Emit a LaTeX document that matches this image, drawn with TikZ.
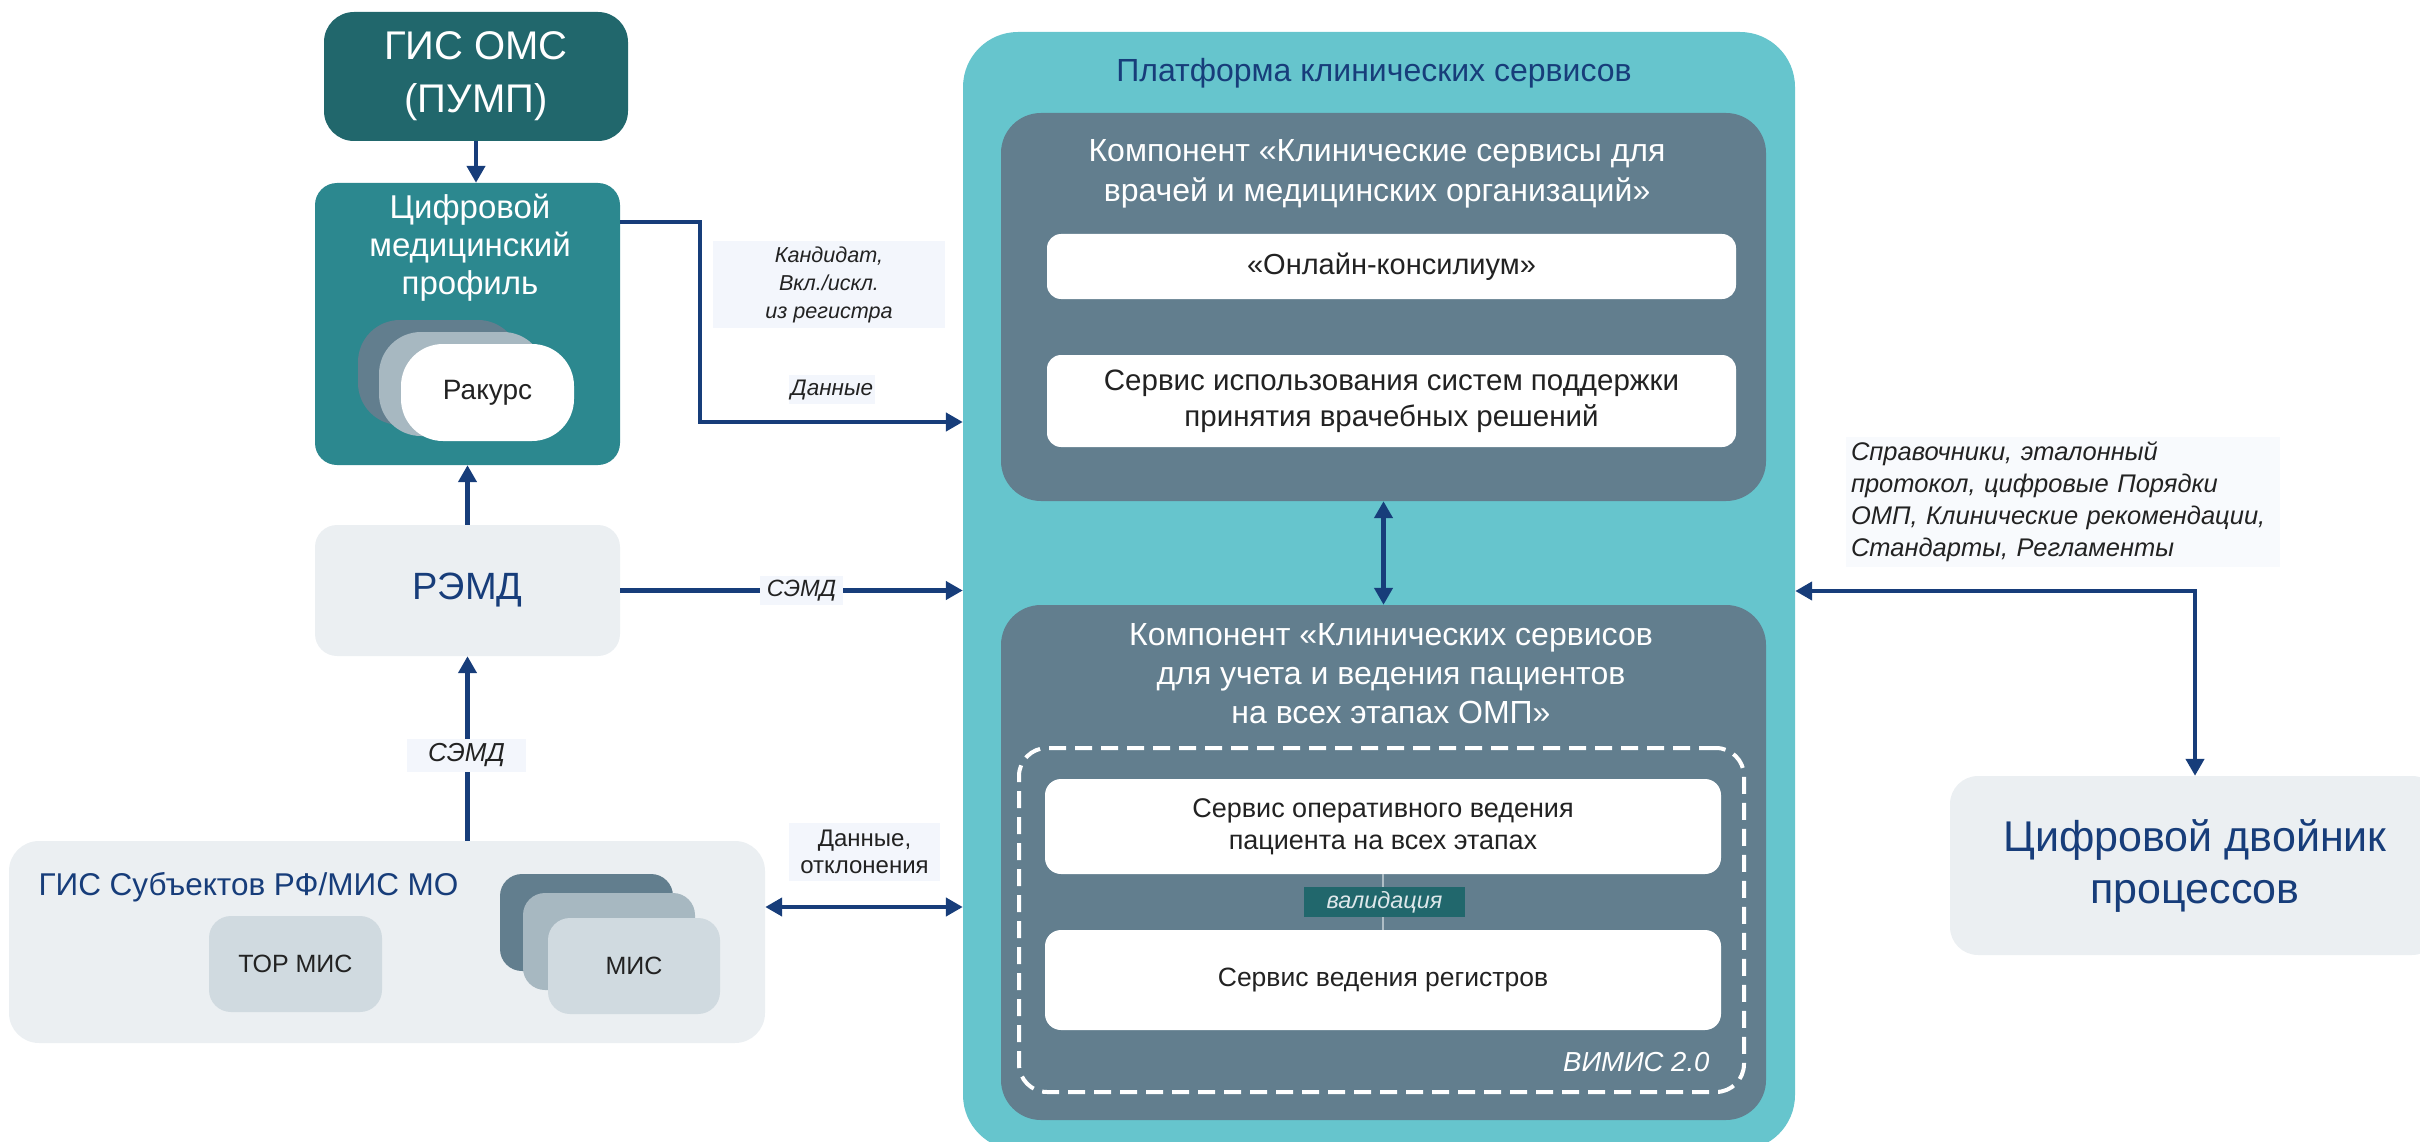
\documentclass[tikz,border=0pt]{standalone}
\usepackage{fontspec}
\setmainfont{Liberation Sans}
\usetikzlibrary{arrows.meta,calc}
\definecolor{navy}{HTML}{173D7A}
\definecolor{darkteal}{HTML}{21676C}
\definecolor{midteal}{HTML}{2C888F}
\definecolor{plat}{HTML}{66C5CD}
\definecolor{slate}{HTML}{627E8E}
\definecolor{lightgray}{HTML}{EBEFF2}
\definecolor{palegray}{HTML}{D0DAE0}
\definecolor{midgray}{HTML}{A7B8C1}
\definecolor{lblbg}{HTML}{F3F6FC}
\definecolor{lbltext}{HTML}{222222}
\definecolor{thinline}{HTML}{AFBEC6}
\definecolor{validtext}{HTML}{DDE7EA}
\newcommand\fsz[2]{\fontsize{#1}{#2}\selectfont}
\tikzset{
  rbox/.style={rectangle, inner sep=0pt, align=center},
  lbl/.style={rectangle, fill=lblbg, inner sep=0pt, align=center, text=lbltext},
  arr/.style={draw=navy, line width=4.5pt, -{Triangle[length=17pt,width=18pt]}},
  darr/.style={draw=navy, line width=4.5pt, {Triangle[length=17pt,width=18pt]}-{Triangle[length=17pt,width=18pt]}},
}
\begin{document}
\begin{tikzpicture}[x=1pt,y=-1pt]
\useasboundingbox (0,0) rectangle (2420,1142);
% platform
\node[rbox, fill=plat, rounded corners=55pt, minimum width=832pt, minimum height=1118pt] (platform) at (1379,591) {};
\node[font=\fsz{32}{38}, text=navy] (ptitle) at (1374,73) {Платформа клинических сервисов};
% component 1
\node[rbox, fill=slate, rounded corners=40pt, minimum width=765pt, minimum height=388pt] (comp1) at (1383.5,307) {};
\node[align=center, font=\fsz{32}{40}, text=white] (comp1t) at (1377,174) {Компонент «Клинические сервисы для\\врачей и медицинских организаций»};
\node[rbox, fill=white, rounded corners=14pt, minimum width=689pt, minimum height=65pt, font=\fsz{29}{36}, text=lbltext] (wb1) at (1391.5,266.5) {«Онлайн-консилиум»};
\node[rbox, fill=white, rounded corners=14pt, minimum width=689pt, minimum height=92pt, font=\fsz{29.5}{36}, text=lbltext] (wb2) at (1391.5,401) {Сервис использования систем поддержки\\принятия врачебных решений};
% component 2
\node[rbox, fill=slate, rounded corners=40pt, minimum width=765pt, minimum height=515pt] (comp2) at (1383.5,862.5) {};
\node[align=center, font=\fsz{32}{39}, text=white] (comp2t) at (1391,674) {Компонент «Клинических сервисов\\для учета и ведения пациентов\\на всех этапах ОМП»};
\node[rbox, draw=white, line width=4pt, dash pattern=on 17pt off 9pt, rounded corners=28pt, minimum width=725pt, minimum height=344pt] (vimisbox) at (1381.5,920) {};
\node[rbox, fill=white, rounded corners=16pt, minimum width=676pt, minimum height=95pt, font=\fsz{27}{32}, text=lbltext] (wb3) at (1383,826.5) {Сервис оперативного ведения\\пациента на всех этапах};
\node[rbox, fill=white, rounded corners=16pt, minimum width=676pt, minimum height=100pt, font=\fsz{26.5}{32}, text=lbltext] (wb4) at (1383,980) {Сервис ведения регистров};
\node[anchor=east, font=\fsz{27.5}{32}\itshape, text=white] (vimis) at (1713,1062) {ВИМИС 2.0};
% left column
\node[rbox, fill=darkteal, rounded corners=30pt, minimum width=304pt, minimum height=129pt, font=\fsz{40}{53}, text=white] (gisoms) at (476,76.5) {ГИС ОМС\\(ПУМП)};
\node[rbox, fill=midteal, rounded corners=22pt, minimum width=305pt, minimum height=282pt] (cmp) at (467.5,324) {};
\node[align=center, font=\fsz{33}{38}, text=white] (cmpt) at (470,248) {Цифровой\\медицинский\\профиль};
\node[rbox, fill=slate, rounded corners=42pt, minimum width=162pt, minimum height=105pt] (rk1) at (439,372.5) {};
\node[rbox, fill=midgray, rounded corners=42pt, minimum width=166pt, minimum height=104pt] (rk2) at (462,384) {};
\node[rbox, fill=white, rounded corners=42pt, minimum width=173pt, minimum height=97pt, font=\fsz{28}{32}, text=lbltext] (rk3) at (487.5,392.5) {Ракурс};
\node[rbox, fill=lightgray, rounded corners=22pt, minimum width=305pt, minimum height=131pt, font=\fsz{38}{48}, text=navy] (remd) at (467.5,590.5) {РЭМД};
\node[rbox, fill=lightgray, rounded corners=30pt, minimum width=756pt, minimum height=202pt] (gissub) at (387,942) {};
\node[anchor=west, font=\fsz{31.5}{36}, text=navy] (gissubt) at (35,887) {ГИС Субъектов РФ/МИС МО};
\node[rbox, fill=palegray, rounded corners=22pt, minimum width=173pt, minimum height=96pt, font=\fsz{25}{30}, text=lbltext] (tor) at (295.5,964) {ТОР МИС};
\node[rbox, fill=slate, rounded corners=22pt, minimum width=173pt, minimum height=97pt] (mis1) at (586.5,922.5) {};
\node[rbox, fill=midgray, rounded corners=22pt, minimum width=172pt, minimum height=97pt] (mis2) at (609,941.5) {};
\node[rbox, fill=palegray, rounded corners=22pt, minimum width=172pt, minimum height=96pt, font=\fsz{25}{30}, text=lbltext] (mis3) at (634,966) {МИС};
% right
\node[rbox, fill=lightgray, rounded corners=28pt, minimum width=490pt, minimum height=179pt, font=\fsz{43}{52}, text=navy] (dtwin) at (2195,865.5) {Цифровой двойник\\процессов};
% connectors
\draw[arr] (gisoms.south) -- (gisoms.south |- cmp.north);
\draw[arr] ([yshift=-39pt]cmp.north east) -- ++(80,0) |- (platform.west |- 0,422);
\draw[arr] (remd.north) -- (remd.north |- cmp.south);
\draw[arr] (remd.east) -- (platform.west |- remd.east);
\draw[arr] (gissub.north -| remd.north) -- (remd.south);
\draw[darr] (gissub.east |- 0,907) -- (platform.west |- 0,907);
\draw[darr] (comp1.south) -- (comp2.north);
\draw[line width=1.5pt, draw=thinline] (wb3.south) -- (wb4.north);
\draw[darr] (platform.east |- 0,591) -| (dtwin.north);
% labels
\node[lbl, minimum width=232pt, minimum height=87pt, font=\fsz{21.6}{28}\itshape] (kand) at (829,284.5) {Кандидат,\\Вкл./искл.\\из регистра};
\node[lbl, minimum width=86pt, minimum height=29pt, font=\fsz{22.5}{28}\itshape] (dann) at (832,389.5) {Данные};
\node[lbl, minimum width=83pt, minimum height=29pt, font=\fsz{23.5}{28}\itshape] (semd1) at (801.5,590.5) {СЭМД};
\node[lbl, minimum width=119pt, minimum height=33pt, font=\fsz{26}{30}\itshape] (semd2) at (466.5,755.5) {СЭМД};
\node[lbl, minimum width=151pt, minimum height=58pt, font=\fsz{24}{27}] (dannotk) at (864.5,852) {Данные,\\отклонения};
\node[rbox, fill=darkteal, minimum width=161pt, minimum height=30pt, font=\fsz{23.5}{28}\itshape, text=validtext] (valid) at (1384.5,902) {валидация};
\node[lbl, fill=lblbg!60, minimum width=434pt, minimum height=130pt, align=left, font=\fsz{25.5}{32}\itshape, text width=424pt] (sprav) at (2063,502) {Справочники, эталонный\\протокол, цифровые Порядки\\ОМП, Клинические рекомендации,\\Стандарты, Регламенты};
\end{tikzpicture}
\end{document}
